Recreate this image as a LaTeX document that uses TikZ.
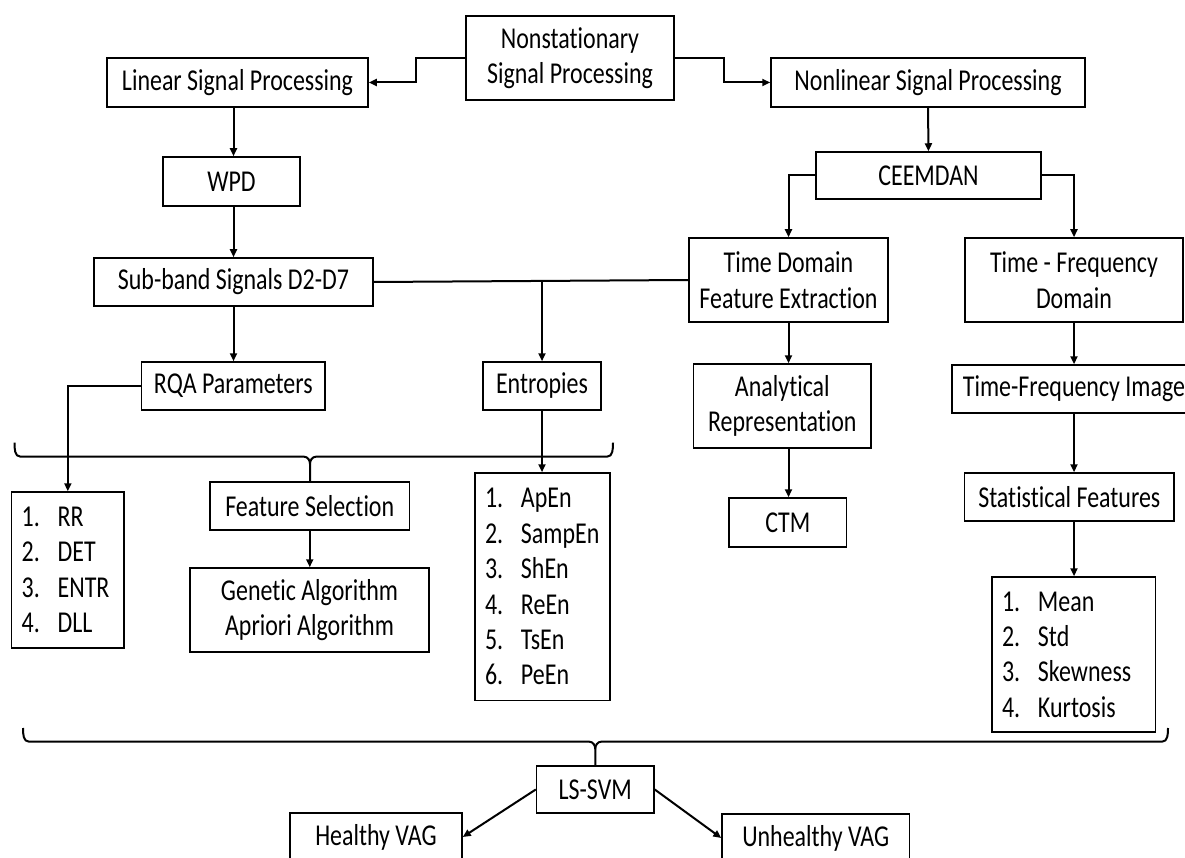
\documentclass[tikz,border=0pt]{standalone}
\usepackage{fontspec}
\setmainfont{Carlito}[FakeStretch=0.79,Ligatures={NoCommon}]
\usetikzlibrary{arrows.meta}
\newcommand\myfont{\fontsize{30.3}{35.4}\selectfont}
\newcommand\itm[2]{\makebox[36pt][l]{#1}#2}
\begin{document}
\begin{tikzpicture}[x=1pt,y=-1pt,
  box/.style={draw,line width=1.5pt,inner sep=0pt,align=center,font=\myfont},
  listbox/.style={draw,line width=1.5pt,inner ysep=0pt,inner xsep=10pt,align=left,font=\myfont},
  conn/.style={line width=2pt},
  arr/.style={line width=2pt,-{Triangle[length=8pt,width=7pt]}},
  brace/.style={line width=2pt}]
\path[use as bounding box,clip] (0,0) rectangle (1185,858);
\fill[white] (0,0) rectangle (1185,858);

% nodes
\node[box,minimum width=208pt,minimum height=84pt] (ns) at (570,58) {Nonstationary\\Signal Processing};
\node[box,minimum width=261pt,minimum height=49pt] (lin) at (237.5,82.5) {Linear Signal Processing};
\node[box,minimum width=314pt,minimum height=49pt] (nonlin) at (928,82.5) {Nonlinear Signal Processing};
\node[box,minimum width=137pt,minimum height=49pt] (wpd) at (231.5,181.5) {WPD};
\node[box,minimum width=279pt,minimum height=48pt] (sub) at (233.5,282) {Sub-band Signals D2-D7};
\node[box,minimum width=225pt,minimum height=47pt] (ceem) at (928.5,175.5) {CEEMDAN};
\node[box,minimum width=199pt,minimum height=84pt] (td) at (788.5,280) {Time Domain\\Feature Extraction};
\node[box,minimum width=218pt,minimum height=84pt] (tf) at (1074,280) {Time - Frequency\\Domain};
\node[box,minimum width=183.4pt,minimum height=48pt] (rqa) at (233.3,386) {RQA Parameters};
\node[box,minimum width=118pt,minimum height=48pt] (ent) at (542,386) {Entropies};
\node[box,minimum width=177.4pt,minimum height=84pt] (ana) at (782.3,406) {Analytical\\Representation};
\node[box,minimum width=117.5pt,minimum height=49pt] (ctm) at (787.75,522.5) {CTM};
\node[box,minimum width=244pt,minimum height=48pt] (tfi) at (1074,389) {Time-Frequency Image};
\node[box,minimum width=209.4pt,minimum height=48pt] (stat) at (1069.3,497) {Statistical Features};
\node[box,minimum width=199.5pt,minimum height=48pt] (fs) at (309.75,506) {Feature Selection};
\node[box,minimum width=239pt,minimum height=84pt] (ga) at (309.5,610) {Genetic Algorithm\\Apriori Algorithm};
\node[listbox,text width=92.3pt,minimum height=156pt] (rqalist) at (67.85,570)
  {\itm{1.}{RR}\\\itm{2.}{DET}\\\itm{3.}{ENTR}\\\itm{4.}{DLL}};
\node[listbox,text width=115pt,minimum height=227.7pt] (entlist) at (542.5,586.85)
  {\itm{1.}{ApEn}\\\itm{2.}{SampEn}\\\itm{3.}{ShEn}\\\itm{4.}{ReEn}\\\itm{5.}{TsEn}\\\itm{6.}{PeEn}};
\node[listbox,text width=143.5pt,minimum height=155pt] (statlist) at (1073.75,654.5)
  {\itm{1.}{Mean}\\\itm{2.}{Std}\\\itm{3.}{Skewness}\\\itm{4.}{Kurtosis}};
\node[box,minimum width=117.5pt,minimum height=47pt] (svm) at (595.25,789.5) {LS-SVM};
\node[box,minimum width=172pt,minimum height=48pt] (healthy) at (376,837) {Healthy VAG};
\node[box,minimum width=187.5pt,minimum height=48pt] (unhealthy) at (815.75,838) {Unhealthy VAG};

% connectors
\draw[arr] (ns.west) -- ++(-49,0) |- (lin.east);
\draw[arr] (ns.east) -- ++(49,0) |- (nonlin.west);
\draw[arr] (lin.south -| sub.north) -- (wpd.north -| sub.north);
\draw[arr] (wpd.south -| sub.north) -- (sub.north);
\draw[arr] (sub.south) -- (rqa.north -| sub.south);
\draw[conn] (sub.east) -- (td.west);
\coordinate (entb) at (ent.north |- 0,281);
\draw[arr] (entb) -- (ent.north);
\draw[arr] (nonlin.south) -- (ceem.north);
\draw[arr] (ceem.west) -| (td.north);
\draw[arr] (ceem.east) -| (tf.north);
\draw[arr] (td.south) -- (ana.north -| td.south);
\draw[arr] (ana.south -| td.south) -- (ctm.north -| td.south);
\draw[arr] (tf.south) -- (tfi.north);
\draw[arr] (tfi.south) -- (stat.north -| tfi.south);
\draw[arr] (stat.south -| tfi.south) -- (statlist.north -| tfi.south);
\draw[arr] (rqa.west) -| (rqalist.north);
\draw[arr] (ent.south) -- (entlist.north -| ent.south);
\draw[arr] (fs.south) -- (ga.north -| fs.south);

% upper brace
\coordinate (ubl) at (14.5,442.7);
\coordinate (ubr) at (613,442.7);
\coordinate (ubt) at (310,464);
\draw[brace] (ubl) to[out=-90,in=180] (20.5,456.7) -- (304,456.7) to[out=0,in=90] (ubt) -- (ubt |- fs.north);
\draw[brace] (ubr) to[out=-90,in=0] (607,456.7) -- (316,456.7) to[out=180,in=90] (ubt);

% lower brace
\coordinate (lbl) at (23,728);
\coordinate (lbr) at (1168,728);
\coordinate (lbt) at (595.25,749);
\draw[brace] (lbl) to[out=-90,in=180] (29,741.7) -- (589.25,741.7) to[out=0,in=90] (lbt) -- (svm.north);
\draw[brace] (lbr) to[out=-90,in=0] (1162,741.7) -- (601.25,741.7) to[out=180,in=90] (lbt);

\draw[arr] (svm.west) -- (healthy.east);
\draw[arr] (svm.east) -- (unhealthy.west);
\end{tikzpicture}
\end{document}
